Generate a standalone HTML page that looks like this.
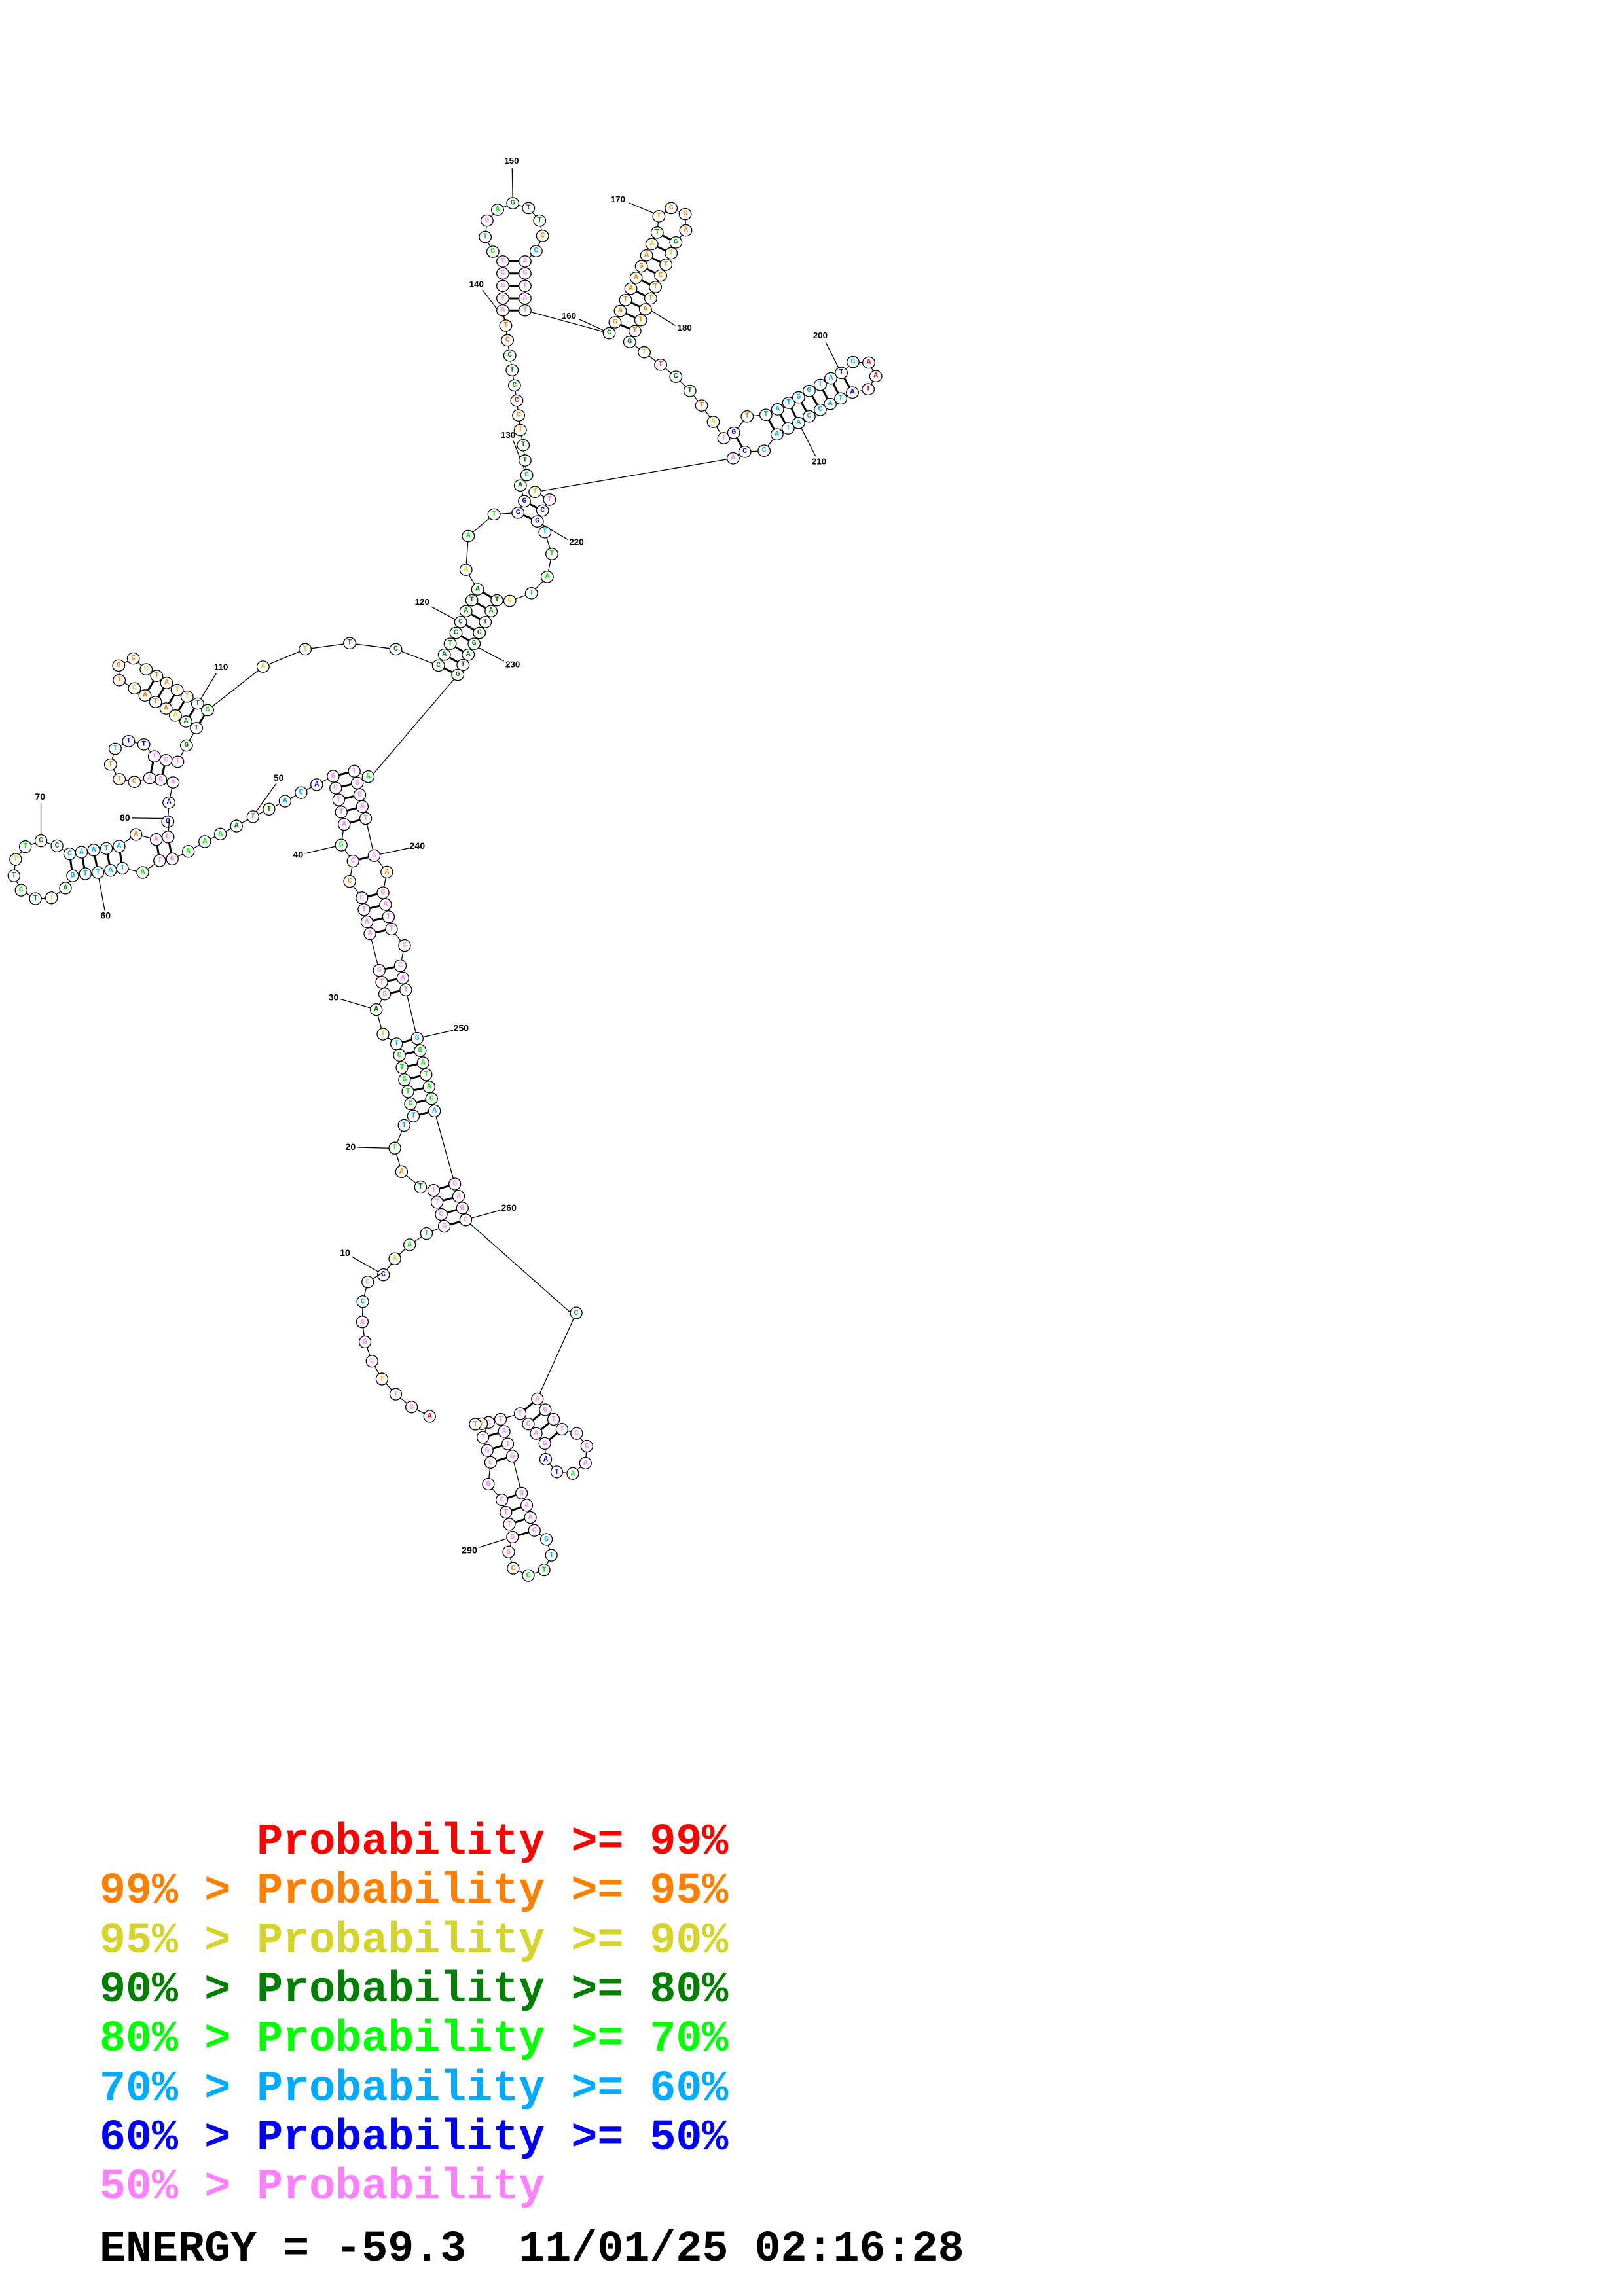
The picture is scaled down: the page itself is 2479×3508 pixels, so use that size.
<!DOCTYPE html>
<html><head><meta charset="utf-8"><style>
html,body{margin:0;padding:0;background:#fff;}
svg{display:block;}
circle{fill:#fff;stroke:#000;vector-effect:non-scaling-stroke;stroke-width:1.3;}
polyline,line{fill:none;stroke:#000;vector-effect:non-scaling-stroke;stroke-width:1.3;}
line.bp{stroke-width:3;}
text.n{font-family:"Liberation Mono",monospace;font-weight:bold;text-anchor:middle;dominant-baseline:central;}
text.lb{font-family:"Liberation Sans",sans-serif;font-weight:bold;fill:#000;text-anchor:middle;dominant-baseline:central;}
.p{fill:#ff80ff}.o{fill:#ff8000}.y{fill:#d4d42a}.g{fill:#008000}.l{fill:#00ee00}.b{fill:#00aaff}.u{fill:#0000ff}.r{fill:#ff0000}
.leg{font-family:"Liberation Mono",monospace;font-weight:bold;font-size:66.7px;white-space:pre;}
</style></head><body>
<svg width="2479" height="3508" viewBox="0 0 2479 3508" xmlns="http://www.w3.org/2000/svg">
<rect width="2479" height="3508" fill="#fff"/>

<!-- Z2 upper region -->
<g transform="translate(0,200) scale(0.893,0.831)">
<polyline points="287,1270 289,1235 296,1198 275,1193 256,1190 230,1197 204,1192 189,1165 197,1136 220,1122 246,1128 264,1150 284,1157 304,1160 319,1130 336,1098 318,1086 300,1075 284,1062 266,1050 248,1038 230,1025 204,1010 203,983 228,970 250,990 268,1002 285,1015 303,1028 320,1040 338,1053 355,1065 450,985 522,953 598,942 677,953 750,983 760,963 770,943 780,923 788,903 797,883 807,863 817,843 797,807 801,745 845,705 886,702 897,681 890,652 901,633 898,606 895,578 890,550 887,523 884,496 880,468 876,440 872,413 868,385 865,358 860,330 860,308 860,285 860,262 860,240 843,222 830,195 833,165 851,145 877,133 904,142 923,165 928,193 917,221 898,240 898,262 898,285 898,308 898,330 1042,372 1052,352 1061,331 1070,311 1079,290 1088,270 1097,249 1106,229 1115,208 1124,187 1127,157 1148,142 1172,153 1173,183 1156,205 1148,225 1139,246 1130,266 1121,287 1113,308 1104,328 1096,348 1086,368 1077,388 1102,407 1130,430 1156,452 1180,478 1200,505 1220,535 1238,565 1255,555 1278,525 1310,522 1330,512 1349,500 1366,490 1384,478 1403,467 1421,455 1439,445 1459,425 1486,426 1498,451 1485,475 1458,481 1438,492 1420,502 1403,513 1384,525 1366,537 1348,547 1329,558 1307,588 1274,590 1254,602 915,664 940,678 928,698 919,718 932,738 944,778 936,820 909,850 872,864 850,863 840,883 830,903 820,923 811,943 801,963 792,982 783,1000 630,1193"/>
<line class="bp" x1="264" y1="1150" x2="256" y2="1190"/><line class="bp" x1="284" y1="1157" x2="275" y2="1193"/>
<line class="bp" x1="268" y1="1002" x2="248" y2="1038"/><line class="bp" x1="285" y1="1015" x2="266" y2="1050"/><line class="bp" x1="303" y1="1028" x2="284" y2="1062"/><line class="bp" x1="320" y1="1040" x2="300" y2="1075"/><line class="bp" x1="338" y1="1053" x2="318" y2="1086"/><line class="bp" x1="355" y1="1065" x2="336" y2="1098"/>
<line class="bp" x1="750" y1="983" x2="783" y2="1000"/><line class="bp" x1="760" y1="963" x2="792" y2="982"/><line class="bp" x1="770" y1="943" x2="801" y2="963"/><line class="bp" x1="780" y1="923" x2="811" y2="943"/><line class="bp" x1="788" y1="903" x2="820" y2="923"/><line class="bp" x1="797" y1="883" x2="830" y2="903"/><line class="bp" x1="807" y1="863" x2="840" y2="883"/><line class="bp" x1="817" y1="843" x2="850" y2="863"/>
<line class="bp" x1="897" y1="681" x2="928" y2="698"/><line class="bp" x1="886" y1="702" x2="919" y2="718"/>
<line class="bp" x1="860" y1="240" x2="898" y2="240"/><line class="bp" x1="860" y1="262" x2="898" y2="262"/><line class="bp" x1="860" y1="285" x2="898" y2="285"/><line class="bp" x1="860" y1="308" x2="898" y2="308"/><line class="bp" x1="860" y1="330" x2="898" y2="330"/>
<line class="bp" x1="1052" y1="352" x2="1086" y2="368"/><line class="bp" x1="1061" y1="331" x2="1096" y2="348"/><line class="bp" x1="1070" y1="311" x2="1104" y2="328"/><line class="bp" x1="1079" y1="290" x2="1113" y2="308"/><line class="bp" x1="1088" y1="270" x2="1121" y2="287"/><line class="bp" x1="1097" y1="249" x2="1130" y2="266"/><line class="bp" x1="1106" y1="229" x2="1139" y2="246"/><line class="bp" x1="1115" y1="208" x2="1148" y2="225"/><line class="bp" x1="1124" y1="187" x2="1156" y2="205"/>
<line class="bp" x1="1255" y1="555" x2="1274" y2="590"/>
<line class="bp" x1="1310" y1="522" x2="1329" y2="558"/><line class="bp" x1="1330" y1="512" x2="1348" y2="547"/><line class="bp" x1="1349" y1="500" x2="1366" y2="537"/><line class="bp" x1="1366" y1="490" x2="1384" y2="525"/><line class="bp" x1="1384" y1="478" x2="1403" y2="513"/><line class="bp" x1="1403" y1="467" x2="1420" y2="502"/><line class="bp" x1="1421" y1="455" x2="1438" y2="492"/><line class="bp" x1="1439" y1="445" x2="1458" y2="481"/>
<line x1="876" y1="68" x2="877" y2="123"/><line x1="825" y1="292" x2="865" y2="348"/><line x1="1075" y1="132" x2="1120" y2="152"/><line x1="990" y1="346" x2="1035" y2="368"/><line x1="1155" y1="358" x2="1113" y2="330"/><line x1="1412" y1="388" x2="1435" y2="437"/><line x1="1395" y1="598" x2="1370" y2="545"/><line x1="878" y1="570" x2="898" y2="625"/><line x1="972" y1="752" x2="925" y2="722"/><line x1="738" y1="875" x2="782" y2="900"/><line x1="862" y1="975" x2="815" y2="948"/><line x1="370" y1="997" x2="343" y2="1045"/>
<g font-size="15">
<text class="lb" x="875" y="55">150</text><text class="lb" x="815" y="282">140</text><text class="lb" x="1057" y="126">170</text><text class="lb" x="973" y="340">160</text><text class="lb" x="1171" y="362">180</text><text class="lb" x="1403" y="376">200</text><text class="lb" x="1401" y="608">210</text><text class="lb" x="869" y="559">130</text><text class="lb" x="986" y="756">220</text><text class="lb" x="722" y="866">120</text><text class="lb" x="877" y="981">230</text><text class="lb" x="378" y="986">110</text>
</g>
<g font-size="13">
<circle cx="287" cy="1270" r="10.4"/><text class="n u" x="287" y="1270">G</text>
<circle cx="289" cy="1235" r="10.4"/><text class="n u" x="289" y="1235">A</text>
<circle cx="296" cy="1198" r="10.4"/><text class="n p" x="296" y="1198">A</text>
<circle cx="275" cy="1193" r="10.4"/><text class="n p" x="275" y="1193">G</text>
<circle cx="256" cy="1190" r="10.4"/><text class="n p" x="256" y="1190">A</text>
<circle cx="230" cy="1197" r="10.4"/><text class="n o" x="230" y="1197">C</text>
<circle cx="204" cy="1192" r="10.4"/><text class="n o" x="204" y="1192">T</text>
<circle cx="189" cy="1165" r="10.4"/><text class="n o" x="189" y="1165">T</text>
<circle cx="197" cy="1136" r="10.4"/><text class="n b" x="197" y="1136">T</text>
<circle cx="220" cy="1122" r="10.4"/><text class="n u" x="220" y="1122">T</text>
<circle cx="246" cy="1128" r="10.4"/><text class="n u" x="246" y="1128">T</text>
<circle cx="264" cy="1150" r="10.4"/><text class="n p" x="264" y="1150">T</text>
<circle cx="284" cy="1157" r="10.4"/><text class="n p" x="284" y="1157">C</text>
<circle cx="304" cy="1160" r="10.4"/><text class="n p" x="304" y="1160">T</text>
<circle cx="319" cy="1130" r="10.4"/><text class="n g" x="319" y="1130">G</text>
<circle cx="336" cy="1098" r="10.4"/><text class="n g" x="336" y="1098">T</text>
<circle cx="318" cy="1086" r="10.4"/><text class="n g" x="318" y="1086">A</text>
<circle cx="300" cy="1075" r="10.4"/><text class="n y" x="300" y="1075">A</text>
<circle cx="284" cy="1062" r="10.4"/><text class="n o" x="284" y="1062">A</text>
<circle cx="266" cy="1050" r="10.4"/><text class="n o" x="266" y="1050">T</text>
<circle cx="248" cy="1038" r="10.4"/><text class="n o" x="248" y="1038">A</text>
<circle cx="230" cy="1025" r="10.4"/><text class="n y" x="230" y="1025">C</text>
<circle cx="204" cy="1010" r="10.4"/><text class="n o" x="204" y="1010">T</text>
<circle cx="203" cy="983" r="10.4"/><text class="n o" x="203" y="983">G</text>
<circle cx="228" cy="970" r="10.4"/><text class="n o" x="228" y="970">C</text>
<circle cx="250" cy="990" r="10.4"/><text class="n y" x="250" y="990">C</text>
<circle cx="268" cy="1002" r="10.4"/><text class="n o" x="268" y="1002">T</text>
<circle cx="285" cy="1015" r="10.4"/><text class="n o" x="285" y="1015">A</text>
<circle cx="303" cy="1028" r="10.4"/><text class="n o" x="303" y="1028">T</text>
<circle cx="320" cy="1040" r="10.4"/><text class="n y" x="320" y="1040">T</text>
<circle cx="338" cy="1053" r="10.4"/><text class="n g" x="338" y="1053">T</text>
<circle cx="355" cy="1065" r="10.4"/><text class="n l" x="355" y="1065">G</text>
<circle cx="450" cy="985" r="10.4"/><text class="n y" x="450" y="985">A</text>
<circle cx="522" cy="953" r="10.4"/><text class="n y" x="522" y="953">T</text>
<circle cx="598" cy="942" r="10.4"/><text class="n g" x="598" y="942">T</text>
<circle cx="677" cy="953" r="10.4"/><text class="n g" x="677" y="953">C</text>
<circle cx="750" cy="983" r="10.4"/><text class="n g" x="750" y="983">C</text>
<circle cx="760" cy="963" r="10.4"/><text class="n g" x="760" y="963">A</text>
<circle cx="770" cy="943" r="10.4"/><text class="n g" x="770" y="943">T</text>
<circle cx="780" cy="923" r="10.4"/><text class="n g" x="780" y="923">C</text>
<circle cx="788" cy="903" r="10.4"/><text class="n g" x="788" y="903">C</text>
<circle cx="797" cy="883" r="10.4"/><text class="n g" x="797" y="883">A</text>
<circle cx="807" cy="863" r="10.4"/><text class="n g" x="807" y="863">T</text>
<circle cx="817" cy="843" r="10.4"/><text class="n g" x="817" y="843">A</text>
<circle cx="797" cy="807" r="10.4"/><text class="n y" x="797" y="807">A</text>
<circle cx="801" cy="745" r="10.4"/><text class="n l" x="801" y="745">A</text>
<circle cx="845" cy="705" r="10.4"/><text class="n l" x="845" y="705">T</text>
<circle cx="886" cy="702" r="10.4"/><text class="n u" x="886" y="702">C</text>
<circle cx="897" cy="681" r="10.4"/><text class="n u" x="897" y="681">G</text>
<circle cx="890" cy="652" r="10.4"/><text class="n g" x="890" y="652">A</text>
<circle cx="901" cy="633" r="10.4"/><text class="n b" x="901" y="633">C</text>
<circle cx="898" cy="606" r="10.4"/><text class="n g" x="898" y="606">T</text>
<circle cx="895" cy="578" r="10.4"/><text class="n g" x="895" y="578">T</text>
<circle cx="890" cy="550" r="10.4"/><text class="n o" x="890" y="550">T</text>
<circle cx="887" cy="523" r="10.4"/><text class="n o" x="887" y="523">C</text>
<circle cx="884" cy="496" r="10.4"/><text class="n r" x="884" y="496">C</text>
<circle cx="880" cy="468" r="10.4"/><text class="n g" x="880" y="468">C</text>
<circle cx="876" cy="440" r="10.4"/><text class="n g" x="876" y="440">T</text>
<circle cx="872" cy="413" r="10.4"/><text class="n g" x="872" y="413">C</text>
<circle cx="868" cy="385" r="10.4"/><text class="n o" x="868" y="385">C</text>
<circle cx="865" cy="358" r="10.4"/><text class="n o" x="865" y="358">T</text>
<circle cx="860" cy="330" r="10.4"/><text class="n p" x="860" y="330">A</text>
<circle cx="860" cy="308" r="10.4"/><text class="n p" x="860" y="308">T</text>
<circle cx="860" cy="285" r="10.4"/><text class="n p" x="860" y="285">G</text>
<circle cx="860" cy="262" r="10.4"/><text class="n p" x="860" y="262">C</text>
<circle cx="860" cy="240" r="10.4"/><text class="n p" x="860" y="240">T</text>
<circle cx="843" cy="222" r="10.4"/><text class="n l" x="843" y="222">C</text>
<circle cx="830" cy="195" r="10.4"/><text class="n b" x="830" y="195">T</text>
<circle cx="833" cy="165" r="10.4"/><text class="n p" x="833" y="165">G</text>
<circle cx="851" cy="145" r="10.4"/><text class="n l" x="851" y="145">A</text>
<circle cx="877" cy="133" r="10.4"/><text class="n g" x="877" y="133">G</text>
<circle cx="904" cy="142" r="10.4"/><text class="n g" x="904" y="142">T</text>
<circle cx="923" cy="165" r="10.4"/><text class="n g" x="923" y="165">T</text>
<circle cx="928" cy="193" r="10.4"/><text class="n o" x="928" y="193">C</text>
<circle cx="917" cy="221" r="10.4"/><text class="n b" x="917" y="221">C</text>
<circle cx="898" cy="240" r="10.4"/><text class="n p" x="898" y="240">A</text>
<circle cx="898" cy="262" r="10.4"/><text class="n p" x="898" y="262">G</text>
<circle cx="898" cy="285" r="10.4"/><text class="n p" x="898" y="285">T</text>
<circle cx="898" cy="308" r="10.4"/><text class="n p" x="898" y="308">A</text>
<circle cx="898" cy="330" r="10.4"/><text class="n p" x="898" y="330">T</text>
<circle cx="1042" cy="372" r="10.4"/><text class="n g" x="1042" y="372">C</text>
<circle cx="1052" cy="352" r="10.4"/><text class="n o" x="1052" y="352">G</text>
<circle cx="1061" cy="331" r="10.4"/><text class="n o" x="1061" y="331">A</text>
<circle cx="1070" cy="311" r="10.4"/><text class="n o" x="1070" y="311">T</text>
<circle cx="1079" cy="290" r="10.4"/><text class="n o" x="1079" y="290">A</text>
<circle cx="1088" cy="270" r="10.4"/><text class="n o" x="1088" y="270">A</text>
<circle cx="1097" cy="249" r="10.4"/><text class="n o" x="1097" y="249">G</text>
<circle cx="1106" cy="229" r="10.4"/><text class="n o" x="1106" y="229">A</text>
<circle cx="1115" cy="208" r="10.4"/><text class="n y" x="1115" y="208">A</text>
<circle cx="1124" cy="187" r="10.4"/><text class="n g" x="1124" y="187">T</text>
<circle cx="1127" cy="157" r="10.4"/><text class="n o" x="1127" y="157">T</text>
<circle cx="1148" cy="142" r="10.4"/><text class="n o" x="1148" y="142">C</text>
<circle cx="1172" cy="153" r="10.4"/><text class="n o" x="1172" y="153">G</text>
<circle cx="1173" cy="183" r="10.4"/><text class="n o" x="1173" y="183">A</text>
<circle cx="1156" cy="205" r="10.4"/><text class="n g" x="1156" y="205">G</text>
<circle cx="1148" cy="225" r="10.4"/><text class="n y" x="1148" y="225">T</text>
<circle cx="1139" cy="246" r="10.4"/><text class="n o" x="1139" y="246">T</text>
<circle cx="1130" cy="266" r="10.4"/><text class="n o" x="1130" y="266">C</text>
<circle cx="1121" cy="287" r="10.4"/><text class="n o" x="1121" y="287">T</text>
<circle cx="1113" cy="308" r="10.4"/><text class="n o" x="1113" y="308">T</text>
<circle cx="1104" cy="328" r="10.4"/><text class="n o" x="1104" y="328">A</text>
<circle cx="1096" cy="348" r="10.4"/><text class="n o" x="1096" y="348">T</text>
<circle cx="1086" cy="368" r="10.4"/><text class="n o" x="1086" y="368">T</text>
<circle cx="1077" cy="388" r="10.4"/><text class="n g" x="1077" y="388">G</text>
<circle cx="1102" cy="407" r="10.4"/><text class="n y" x="1102" y="407">T</text>
<circle cx="1130" cy="430" r="10.4"/><text class="n r" x="1130" y="430">T</text>
<circle cx="1156" cy="452" r="10.4"/><text class="n g" x="1156" y="452">C</text>
<circle cx="1180" cy="478" r="10.4"/><text class="n g" x="1180" y="478">T</text>
<circle cx="1200" cy="505" r="10.4"/><text class="n o" x="1200" y="505">T</text>
<circle cx="1220" cy="535" r="10.4"/><text class="n y" x="1220" y="535">A</text>
<circle cx="1238" cy="565" r="10.4"/><text class="n p" x="1238" y="565">T</text>
<circle cx="1255" cy="555" r="10.4"/><text class="n u" x="1255" y="555">G</text>
<circle cx="1278" cy="525" r="10.4"/><text class="n o" x="1278" y="525">T</text>
<circle cx="1310" cy="522" r="10.4"/><text class="n b" x="1310" y="522">T</text>
<circle cx="1330" cy="512" r="10.4"/><text class="n b" x="1330" y="512">A</text>
<circle cx="1349" cy="500" r="10.4"/><text class="n b" x="1349" y="500">T</text>
<circle cx="1366" cy="490" r="10.4"/><text class="n b" x="1366" y="490">G</text>
<circle cx="1384" cy="478" r="10.4"/><text class="n b" x="1384" y="478">G</text>
<circle cx="1403" cy="467" r="10.4"/><text class="n b" x="1403" y="467">T</text>
<circle cx="1421" cy="455" r="10.4"/><text class="n b" x="1421" y="455">A</text>
<circle cx="1439" cy="445" r="10.4"/><text class="n u" x="1439" y="445">T</text>
<circle cx="1459" cy="425" r="10.4"/><text class="n b" x="1459" y="425">G</text>
<circle cx="1486" cy="426" r="10.4"/><text class="n r" x="1486" y="426">A</text>
<circle cx="1498" cy="451" r="10.4"/><text class="n r" x="1498" y="451">A</text>
<circle cx="1485" cy="475" r="10.4"/><text class="n r" x="1485" y="475">T</text>
<circle cx="1458" cy="481" r="10.4"/><text class="n u" x="1458" y="481">A</text>
<circle cx="1438" cy="492" r="10.4"/><text class="n b" x="1438" y="492">T</text>
<circle cx="1420" cy="502" r="10.4"/><text class="n b" x="1420" y="502">A</text>
<circle cx="1403" cy="513" r="10.4"/><text class="n b" x="1403" y="513">C</text>
<circle cx="1384" cy="525" r="10.4"/><text class="n b" x="1384" y="525">C</text>
<circle cx="1366" cy="537" r="10.4"/><text class="n b" x="1366" y="537">A</text>
<circle cx="1348" cy="547" r="10.4"/><text class="n b" x="1348" y="547">T</text>
<circle cx="1329" cy="558" r="10.4"/><text class="n b" x="1329" y="558">A</text>
<circle cx="1307" cy="588" r="10.4"/><text class="n b" x="1307" y="588">C</text>
<circle cx="1274" cy="590" r="10.4"/><text class="n u" x="1274" y="590">C</text>
<circle cx="1254" cy="602" r="10.4"/><text class="n p" x="1254" y="602">A</text>
<circle cx="915" cy="664" r="10.4"/><text class="n y" x="915" y="664">T</text>
<circle cx="940" cy="678" r="10.4"/><text class="n p" x="940" y="678">T</text>
<circle cx="928" cy="698" r="10.4"/><text class="n u" x="928" y="698">C</text>
<circle cx="919" cy="718" r="10.4"/><text class="n u" x="919" y="718">G</text>
<circle cx="932" cy="738" r="10.4"/><text class="n b" x="932" y="738">T</text>
<circle cx="944" cy="778" r="10.4"/><text class="n l" x="944" y="778">T</text>
<circle cx="936" cy="820" r="10.4"/><text class="n l" x="936" y="820">A</text>
<circle cx="909" cy="850" r="10.4"/><text class="n l" x="909" y="850">T</text>
<circle cx="872" cy="864" r="10.4"/><text class="n y" x="872" y="864">G</text>
<circle cx="850" cy="863" r="10.4"/><text class="n g" x="850" y="863">T</text>
<circle cx="840" cy="883" r="10.4"/><text class="n g" x="840" y="883">A</text>
<circle cx="830" cy="903" r="10.4"/><text class="n g" x="830" y="903">T</text>
<circle cx="820" cy="923" r="10.4"/><text class="n g" x="820" y="923">G</text>
<circle cx="811" cy="943" r="10.4"/><text class="n g" x="811" y="943">G</text>
<circle cx="801" cy="963" r="10.4"/><text class="n g" x="801" y="963">A</text>
<circle cx="792" cy="982" r="10.4"/><text class="n g" x="792" y="982">T</text>
<circle cx="783" cy="1000" r="10.4"/><text class="n g" x="783" y="1000">G</text>
</g>
</g>

<!-- Z3 middle region -->
<g transform="translate(0,1146) scale(0.645)">
<polyline points="401,162 398,206 370,212 322,200 282,228 252,233 222,237 193,242 165,246 135,227 97,215 60,229 37,259 33,298 50,332 84,352 122,350 155,327 172,298 202,293 232,290 262,285 290,280 338,290 378,262 408,258 446,240 485,217 522,199 560,180 599,158 637,140 675,121 713,101 750,82 789,62 795,90 802,118 808,147 815,176 808,225 836,263 828,311 857,350 862,378 869,407 876,435 898,522 904,550 911,578 891,615 907,673 939,696 946,723 952,752 958,781 966,809 972,838 979,867 957,889 935,943 951,999 996,1035 1027,1043 1035,1071 1045,1100 1052,1128 1010,1145 970,1172 935,1205 908,1243"/>
<polyline points="872,63 839,50 846,78 852,106 858,134 866,162 886,250 916,289 907,338 913,366 920,395 927,424 958,463 948,511 954,540 961,568 988,683 995,712 1002,741 1009,769 1016,798 1022,826 1029,855 1077,1028 1086,1057 1095,1085 1103,1113 1365,1345"/>
<line class="bp" x1="165" y1="246" x2="172" y2="298"/><line class="bp" x1="193" y1="242" x2="202" y2="293"/><line class="bp" x1="222" y1="237" x2="232" y2="290"/><line class="bp" x1="252" y1="233" x2="262" y2="285"/><line class="bp" x1="282" y1="228" x2="290" y2="280"/>
<line class="bp" x1="370" y1="212" x2="378" y2="262"/><line class="bp" x1="398" y1="206" x2="408" y2="258"/>
<line class="bp" x1="789" y1="62" x2="839" y2="50"/><line class="bp" x1="795" y1="90" x2="846" y2="78"/><line class="bp" x1="802" y1="118" x2="852" y2="106"/><line class="bp" x1="808" y1="147" x2="858" y2="134"/><line class="bp" x1="815" y1="176" x2="866" y2="162"/>
<line class="bp" x1="836" y1="263" x2="886" y2="250"/>
<line class="bp" x1="857" y1="350" x2="907" y2="338"/><line class="bp" x1="862" y1="378" x2="913" y2="366"/><line class="bp" x1="869" y1="407" x2="920" y2="395"/><line class="bp" x1="876" y1="435" x2="927" y2="424"/>
<line class="bp" x1="898" y1="522" x2="948" y2="511"/><line class="bp" x1="904" y1="550" x2="954" y2="540"/><line class="bp" x1="911" y1="578" x2="961" y2="568"/>
<line class="bp" x1="939" y1="696" x2="988" y2="683"/><line class="bp" x1="946" y1="723" x2="995" y2="712"/><line class="bp" x1="952" y1="752" x2="1002" y2="741"/><line class="bp" x1="958" y1="781" x2="1009" y2="769"/><line class="bp" x1="966" y1="809" x2="1016" y2="798"/><line class="bp" x1="972" y1="838" x2="1022" y2="826"/><line class="bp" x1="979" y1="867" x2="1029" y2="855"/>
<line class="bp" x1="1027" y1="1043" x2="1077" y2="1028"/><line class="bp" x1="1035" y1="1071" x2="1086" y2="1057"/><line class="bp" x1="1045" y1="1100" x2="1095" y2="1085"/><line class="bp" x1="1052" y1="1128" x2="1103" y2="1113"/>
<line x1="655" y1="78" x2="605" y2="148"/><line x1="97" y1="125" x2="97" y2="202"/><line x1="248" y1="380" x2="234" y2="303"/><line x1="312" y1="161" x2="387" y2="162"/><line x1="722" y1="245" x2="795" y2="228"/><line x1="970" y1="232" x2="899" y2="247"/><line x1="806" y1="590" x2="878" y2="611"/><line x1="1073" y1="664" x2="1001" y2="680"/><line x1="846" y1="941" x2="921" y2="943"/><line x1="1185" y1="1090" x2="1116" y2="1109"/><line x1="833" y1="1200" x2="896" y2="1236"/>
<g font-size="22">
<text class="lb" x="660" y="67">50</text><text class="lb" x="95" y="112">70</text><text class="lb" x="250" y="393">60</text><text class="lb" x="296" y="161">80</text><text class="lb" x="706" y="249">40</text><text class="lb" x="988" y="228">240</text><text class="lb" x="790" y="587">30</text><text class="lb" x="1092" y="660">250</text><text class="lb" x="830" y="941">20</text><text class="lb" x="1205" y="1085">260</text><text class="lb" x="817" y="1192">10</text>
</g>
<g font-size="18">
<circle cx="398" cy="206" r="14"/><text class="n p" x="398" y="206">C</text>
<circle cx="370" cy="212" r="14"/><text class="n p" x="370" y="212">A</text>
<circle cx="322" cy="200" r="14"/><text class="n o" x="322" y="200">A</text>
<circle cx="282" cy="228" r="14"/><text class="n b" x="282" y="228">A</text>
<circle cx="252" cy="233" r="14"/><text class="n b" x="252" y="233">T</text>
<circle cx="222" cy="237" r="14"/><text class="n b" x="222" y="237">A</text>
<circle cx="193" cy="242" r="14"/><text class="n b" x="193" y="242">A</text>
<circle cx="165" cy="246" r="14"/><text class="n b" x="165" y="246">C</text>
<circle cx="135" cy="227" r="14"/><text class="n g" x="135" y="227">C</text>
<circle cx="97" cy="215" r="14"/><text class="n g" x="97" y="215">C</text>
<circle cx="60" cy="229" r="14"/><text class="n l" x="60" y="229">T</text>
<circle cx="37" cy="259" r="14"/><text class="n y" x="37" y="259">T</text>
<circle cx="33" cy="298" r="14"/><text class="n g" x="33" y="298">T</text>
<circle cx="50" cy="332" r="14"/><text class="n l" x="50" y="332">C</text>
<circle cx="84" cy="352" r="14"/><text class="n g" x="84" y="352">T</text>
<circle cx="122" cy="350" r="14"/><text class="n y" x="122" y="350">T</text>
<circle cx="155" cy="327" r="14"/><text class="n g" x="155" y="327">A</text>
<circle cx="172" cy="298" r="14"/><text class="n b" x="172" y="298">G</text>
<circle cx="202" cy="293" r="14"/><text class="n b" x="202" y="293">T</text>
<circle cx="232" cy="290" r="14"/><text class="n b" x="232" y="290">T</text>
<circle cx="262" cy="285" r="14"/><text class="n b" x="262" y="285">A</text>
<circle cx="290" cy="280" r="14"/><text class="n b" x="290" y="280">T</text>
<circle cx="338" cy="290" r="14"/><text class="n l" x="338" y="290">A</text>
<circle cx="378" cy="262" r="14"/><text class="n p" x="378" y="262">T</text>
<circle cx="408" cy="258" r="14"/><text class="n p" x="408" y="258">G</text>
<circle cx="446" cy="240" r="14"/><text class="n l" x="446" y="240">A</text>
<circle cx="485" cy="217" r="14"/><text class="n l" x="485" y="217">A</text>
<circle cx="522" cy="199" r="14"/><text class="n l" x="522" y="199">A</text>
<circle cx="560" cy="180" r="14"/><text class="n g" x="560" y="180">A</text>
<circle cx="599" cy="158" r="14"/><text class="n g" x="599" y="158">T</text>
<circle cx="637" cy="140" r="14"/><text class="n g" x="637" y="140">T</text>
<circle cx="675" cy="121" r="14"/><text class="n b" x="675" y="121">A</text>
<circle cx="713" cy="101" r="14"/><text class="n b" x="713" y="101">C</text>
<circle cx="750" cy="82" r="14"/><text class="n u" x="750" y="82">A</text>
<circle cx="789" cy="62" r="14"/><text class="n p" x="789" y="62">G</text>
<circle cx="795" cy="90" r="14"/><text class="n p" x="795" y="90">C</text>
<circle cx="802" cy="118" r="14"/><text class="n p" x="802" y="118">T</text>
<circle cx="808" cy="147" r="14"/><text class="n p" x="808" y="147">T</text>
<circle cx="815" cy="176" r="14"/><text class="n p" x="815" y="176">A</text>
<circle cx="808" cy="225" r="14"/><text class="n l" x="808" y="225">G</text>
<circle cx="836" cy="263" r="14"/><text class="n p" x="836" y="263">C</text>
<circle cx="828" cy="311" r="14"/><text class="n o" x="828" y="311">C</text>
<circle cx="857" cy="350" r="14"/><text class="n p" x="857" y="350">C</text>
<circle cx="862" cy="378" r="14"/><text class="n p" x="862" y="378">T</text>
<circle cx="869" cy="407" r="14"/><text class="n p" x="869" y="407">A</text>
<circle cx="876" cy="435" r="14"/><text class="n p" x="876" y="435">A</text>
<circle cx="898" cy="522" r="14"/><text class="n p" x="898" y="522">G</text>
<circle cx="904" cy="550" r="14"/><text class="n p" x="904" y="550">T</text>
<circle cx="911" cy="578" r="14"/><text class="n p" x="911" y="578">G</text>
<circle cx="891" cy="615" r="14"/><text class="n g" x="891" y="615">A</text>
<circle cx="907" cy="673" r="14"/><text class="n y" x="907" y="673">T</text>
<circle cx="939" cy="696" r="14"/><text class="n b" x="939" y="696">T</text>
<circle cx="946" cy="723" r="14"/><text class="n l" x="946" y="723">C</text>
<circle cx="952" cy="752" r="14"/><text class="n l" x="952" y="752">T</text>
<circle cx="958" cy="781" r="14"/><text class="n l" x="958" y="781">G</text>
<circle cx="966" cy="809" r="14"/><text class="n l" x="966" y="809">T</text>
<circle cx="972" cy="838" r="14"/><text class="n l" x="972" y="838">C</text>
<circle cx="979" cy="867" r="14"/><text class="n b" x="979" y="867">T</text>
<circle cx="957" cy="889" r="14"/><text class="n b" x="957" y="889">T</text>
<circle cx="935" cy="943" r="14"/><text class="n l" x="935" y="943">T</text>
<circle cx="951" cy="999" r="14"/><text class="n o" x="951" y="999">A</text>
<circle cx="996" cy="1035" r="14"/><text class="n g" x="996" y="1035">T</text>
<circle cx="1027" cy="1043" r="14"/><text class="n p" x="1027" y="1043">T</text>
<circle cx="1035" cy="1071" r="14"/><text class="n p" x="1035" y="1071">T</text>
<circle cx="1045" cy="1100" r="14"/><text class="n p" x="1045" y="1100">C</text>
<circle cx="1052" cy="1128" r="14"/><text class="n p" x="1052" y="1128">G</text>
<circle cx="1010" cy="1145" r="14"/><text class="n b" x="1010" y="1145">T</text>
<circle cx="970" cy="1172" r="14"/><text class="n l" x="970" y="1172">A</text>
<circle cx="935" cy="1205" r="14"/><text class="n y" x="935" y="1205">A</text>
<circle cx="908" cy="1243" r="14"/><text class="n u" x="908" y="1243">C</text>
<circle cx="872" cy="63" r="14"/><text class="n l" x="872" y="63">A</text>
<circle cx="839" cy="50" r="14"/><text class="n p" x="839" y="50">T</text>
<circle cx="846" cy="78" r="14"/><text class="n p" x="846" y="78">G</text>
<circle cx="852" cy="106" r="14"/><text class="n p" x="852" y="106">G</text>
<circle cx="858" cy="134" r="14"/><text class="n p" x="858" y="134">A</text>
<circle cx="866" cy="162" r="14"/><text class="n p" x="866" y="162">T</text>
<circle cx="886" cy="250" r="14"/><text class="n p" x="886" y="250">G</text>
<circle cx="916" cy="289" r="14"/><text class="n o" x="916" y="289">A</text>
<circle cx="907" cy="338" r="14"/><text class="n p" x="907" y="338">G</text>
<circle cx="913" cy="366" r="14"/><text class="n p" x="913" y="366">A</text>
<circle cx="920" cy="395" r="14"/><text class="n p" x="920" y="395">T</text>
<circle cx="927" cy="424" r="14"/><text class="n p" x="927" y="424">T</text>
<circle cx="958" cy="463" r="14"/><text class="n p" x="958" y="463">C</text>
<circle cx="948" cy="511" r="14"/><text class="n p" x="948" y="511">C</text>
<circle cx="954" cy="540" r="14"/><text class="n p" x="954" y="540">A</text>
<circle cx="961" cy="568" r="14"/><text class="n p" x="961" y="568">T</text>
<circle cx="988" cy="683" r="14"/><text class="n b" x="988" y="683">G</text>
<circle cx="995" cy="712" r="14"/><text class="n l" x="995" y="712">G</text>
<circle cx="1002" cy="741" r="14"/><text class="n l" x="1002" y="741">A</text>
<circle cx="1009" cy="769" r="14"/><text class="n l" x="1009" y="769">T</text>
<circle cx="1016" cy="798" r="14"/><text class="n l" x="1016" y="798">A</text>
<circle cx="1022" cy="826" r="14"/><text class="n l" x="1022" y="826">G</text>
<circle cx="1029" cy="855" r="14"/><text class="n b" x="1029" y="855">A</text>
<circle cx="1077" cy="1028" r="14"/><text class="n p" x="1077" y="1028">G</text>
<circle cx="1086" cy="1057" r="14"/><text class="n p" x="1086" y="1057">A</text>
<circle cx="1095" cy="1085" r="14"/><text class="n p" x="1095" y="1085">G</text>
<circle cx="1103" cy="1113" r="14"/><text class="n p" x="1103" y="1113">C</text>
</g>
</g>

<!-- Z5 bottom region -->
<g transform="translate(492,1938) scale(0.345)">
<polyline points="266,20 202,60 180,147 178,237 190,326 221,411 265,490 326,557 396,614 476,655"/>
<polyline points="1125,197 953,578 988,626 1025,668 1062,712 1127,731 1172,787 1166,862 1110,908 1039,901 990,845 986,775 948,731 913,689 877,643 790,668 806,722 822,777 842,831 883,995 906,1049 922,1103 940,1160 993,1200 1015,1270 983,1335 913,1360 846,1328 826,1256 843,1190 829,1133 814,1080 796,1025 736,955 746,859 731,806 712,748 737,682 706,688 678,690"/>
<line class="bp" x1="953" y1="578" x2="877" y2="643"/><line class="bp" x1="988" y1="626" x2="913" y2="689"/><line class="bp" x1="1025" y1="668" x2="948" y2="731"/><line class="bp" x1="1062" y1="712" x2="986" y2="775"/>
<line class="bp" x1="806" y1="722" x2="712" y2="748"/><line class="bp" x1="822" y1="777" x2="731" y2="806"/><line class="bp" x1="842" y1="831" x2="746" y2="859"/><line class="bp" x1="883" y1="995" x2="796" y2="1025"/><line class="bp" x1="906" y1="1049" x2="814" y2="1080"/><line class="bp" x1="922" y1="1103" x2="829" y2="1133"/><line class="bp" x1="940" y1="1160" x2="843" y2="1190"/>
<line x1="695" y1="1235" x2="818" y2="1197"/>
<text class="lb" x="652" y="1250" font-size="42">290</text>
<g font-size="34">
<circle cx="202" cy="60" r="26"/><text class="n p" x="202" y="60">C</text>
<circle cx="180" cy="147" r="26"/><text class="n b" x="180" y="147">C</text>
<circle cx="178" cy="237" r="26"/><text class="n p" x="178" y="237">A</text>
<circle cx="190" cy="326" r="26"/><text class="n p" x="190" y="326">G</text>
<circle cx="221" cy="411" r="26"/><text class="n p" x="221" y="411">C</text>
<circle cx="265" cy="490" r="26"/><text class="n o" x="265" y="490">T</text>
<circle cx="326" cy="557" r="26"/><text class="n p" x="326" y="557">T</text>
<circle cx="396" cy="614" r="26"/><text class="n p" x="396" y="614">G</text>
<circle cx="476" cy="655" r="26"/><text class="n r" x="476" y="655">A</text>
<circle cx="1125" cy="197" r="26"/><text class="n g" x="1125" y="197">C</text>
<circle cx="953" cy="578" r="26"/><text class="n p" x="953" y="578">A</text>
<circle cx="988" cy="626" r="26"/><text class="n p" x="988" y="626">G</text>
<circle cx="1025" cy="668" r="26"/><text class="n p" x="1025" y="668">T</text>
<circle cx="1062" cy="712" r="26"/><text class="n p" x="1062" y="712">T</text>
<circle cx="1127" cy="731" r="26"/><text class="n p" x="1127" y="731">C</text>
<circle cx="1172" cy="787" r="26"/><text class="n p" x="1172" y="787">C</text>
<circle cx="1166" cy="862" r="26"/><text class="n p" x="1166" y="862">A</text>
<circle cx="1110" cy="908" r="26"/><text class="n l" x="1110" y="908">A</text>
<circle cx="1039" cy="901" r="26"/><text class="n u" x="1039" y="901">T</text>
<circle cx="990" cy="845" r="26"/><text class="n u" x="990" y="845">A</text>
<circle cx="986" cy="775" r="26"/><text class="n p" x="986" y="775">G</text>
<circle cx="948" cy="731" r="26"/><text class="n p" x="948" y="731">A</text>
<circle cx="913" cy="689" r="26"/><text class="n p" x="913" y="689">C</text>
<circle cx="877" cy="643" r="26"/><text class="n p" x="877" y="643">T</text>
<circle cx="790" cy="668" r="26"/><text class="n p" x="790" y="668">T</text>
<circle cx="806" cy="722" r="26"/><text class="n p" x="806" y="722">A</text>
<circle cx="822" cy="777" r="26"/><text class="n p" x="822" y="777">T</text>
<circle cx="842" cy="831" r="26"/><text class="n p" x="842" y="831">G</text>
<circle cx="883" cy="995" r="26"/><text class="n p" x="883" y="995">G</text>
<circle cx="906" cy="1049" r="26"/><text class="n p" x="906" y="1049">A</text>
<circle cx="922" cy="1103" r="26"/><text class="n p" x="922" y="1103">A</text>
<circle cx="940" cy="1160" r="26"/><text class="n p" x="940" y="1160">C</text>
<circle cx="993" cy="1200" r="26"/><text class="n b" x="993" y="1200">G</text>
<circle cx="1015" cy="1270" r="26"/><text class="n b" x="1015" y="1270">T</text>
<circle cx="983" cy="1335" r="26"/><text class="n l" x="983" y="1335">T</text>
<circle cx="913" cy="1360" r="26"/><text class="n l" x="913" y="1360">C</text>
<circle cx="846" cy="1328" r="26"/><text class="n o" x="846" y="1328">C</text>
<circle cx="826" cy="1256" r="26"/><text class="n p" x="826" y="1256">G</text>
<circle cx="843" cy="1190" r="26"/><text class="n p" x="843" y="1190">G</text>
<circle cx="829" cy="1133" r="26"/><text class="n p" x="829" y="1133">T</text>
<circle cx="814" cy="1080" r="26"/><text class="n p" x="814" y="1080">T</text>
<circle cx="796" cy="1025" r="26"/><text class="n p" x="796" y="1025">C</text>
<circle cx="736" cy="955" r="26"/><text class="n p" x="736" y="955">G</text>
<circle cx="746" cy="859" r="26"/><text class="n p" x="746" y="859">C</text>
<circle cx="731" cy="806" r="26"/><text class="n p" x="731" y="806">G</text>
<circle cx="712" cy="748" r="26"/><text class="n p" x="712" y="748">T</text>
<circle cx="737" cy="682" r="26"/><text class="n p" x="737" y="682">C</text>
<circle cx="706" cy="688" r="26"/><text class="n y" x="706" y="688">A</text>
<circle cx="678" cy="690" r="26"/><text class="n o" x="678" y="690">T</text>
</g>
</g>

<!-- Legend -->
<text class="leg" x="152" y="2832" fill="#ff0000">      Probability &gt;= 99%</text>
<text class="leg" x="152" y="2907" fill="#ff8000">99% &gt; Probability &gt;= 95%</text>
<text class="leg" x="152" y="2983" fill="#d4d42a">95% &gt; Probability &gt;= 90%</text>
<text class="leg" x="152" y="3058" fill="#008000">90% &gt; Probability &gt;= 80%</text>
<text class="leg" x="152" y="3133" fill="#00ff00">80% &gt; Probability &gt;= 70%</text>
<text class="leg" x="152" y="3209" fill="#00aaff">70% &gt; Probability &gt;= 60%</text>
<text class="leg" x="152" y="3284" fill="#0000ff">60% &gt; Probability &gt;= 50%</text>
<text class="leg" x="152" y="3359" fill="#ff80ff">50% &gt; Probability</text>
<text class="leg" x="152" y="3454" fill="#000">ENERGY = -59.3  11/01/25 02:16:28</text>
</svg>
</body></html>
